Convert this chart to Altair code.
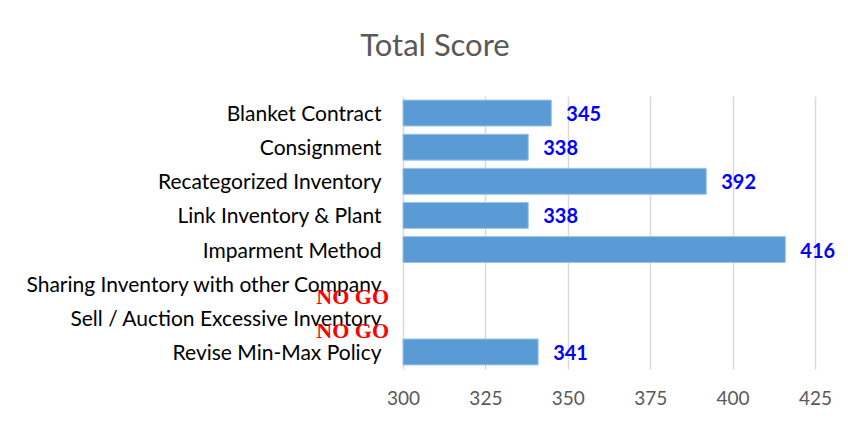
import altair as alt
import pandas as pd

categories = [
    "Blanket Contract",
    "Consignment",
    "Recategorized Inventory",
    "Link Inventory & Plant",
    "Imparment Method",
    "Sharing Inventory with other Company",
    "Sell / Auction Excessive Inventory",
    "Revise Min-Max Policy",
]
scores = [345, 338, 392, 338, 416, None, None, 341]
status = ["GO", "GO", "GO", "GO", "GO", "NO GO", "NO GO", "GO"]
x_ticks = [300, 325, 350, 375, 400, 425]

df = pd.DataFrame({"category": categories, "score": scores, "status": status})
df["label"] = df["score"].apply(lambda v: "" if pd.isna(v) else str(int(v)))

FONT = "Lato"

y_enc = alt.Y(
    "category:N",
    sort=categories,
    title=None,
    scale=alt.Scale(paddingInner=0.24, paddingOuter=0.12),
    axis=alt.Axis(
        labelFont=FONT, labelFontSize=21, labelColor="#000000",
        labelPadding=22, ticks=False, domain=False, labelLimit=500,
        labelOffset=2,
    ),
)
x_scale = alt.Scale(domain=[300, 425], nice=False, zero=False)

base = alt.Chart(df)

bars = base.transform_filter("datum.score != null").mark_bar(
    color="#5B9BD5", stroke="#9DC3E6", strokeWidth=1
).encode(
    x=alt.X(
        "score:Q", scale=x_scale, title=None,
        axis=alt.Axis(
            values=x_ticks, grid=True, gridColor="#D9D9D9", gridWidth=1.5,
            domain=False, ticks=False, labelFont=FONT, labelFontSize=19,
            labelColor="#595959", labelPadding=20, labelFlush=False,
        ),
    ),
    x2=alt.datum(300),
    y=y_enc,
)

values = base.transform_filter("datum.score != null").mark_text(
    align="left", baseline="middle", dx=15, dy=2, font=FONT, fontSize=20,
    fontWeight="bold", color="#0000FF",
).encode(
    x=alt.X("score:Q", scale=x_scale),
    y=alt.Y("category:N", sort=categories),
    text="label:N",
)

nogo = base.transform_filter("datum.status == 'NO GO'").mark_text(
    align="right", baseline="middle", dx=-14, dy=13, font="Liberation Serif",
    fontSize=22, fontWeight="bold", color="#FF0000",
).encode(
    x=alt.value(0),
    y=alt.Y("category:N", sort=categories),
    text="status:N",
)

chart = alt.layer(bars, values, nogo).properties(
    width=412,
    height=273,
    autosize=alt.AutoSizeParams(type="none"),
    padding={"left": 395, "top": 88, "right": 25, "bottom": 48},
    title=alt.TitleParams(
        "Total Score", font=FONT, fontSize=31, fontWeight="normal",
        color="#595959", anchor="middle", dx=-174, offset=33,
    ),
).configure(background="white").configure_view(stroke=None)

chart.save("out.html", embed_options={"renderer": "svg", "actions": False})
